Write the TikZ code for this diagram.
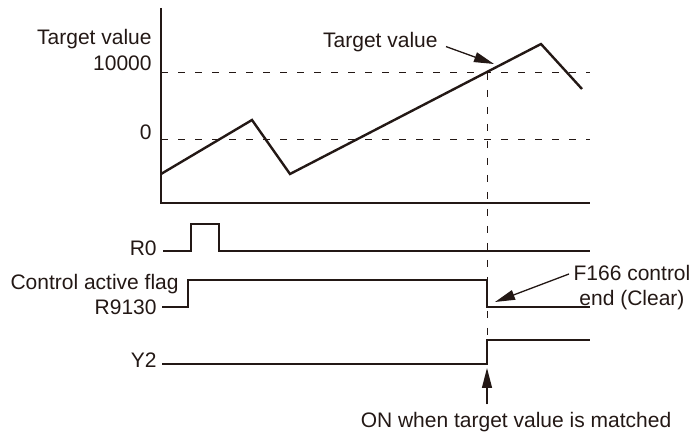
\documentclass[tikz,border=0pt]{standalone}
\usepackage{fontspec}
\setmainfont{Liberation Sans}
\usetikzlibrary{arrows.meta,positioning,calc}
\definecolor{ink}{HTML}{231815}

\begin{document}
\begin{tikzpicture}[
  x=0.5pt, y=-0.5pt,
  every node/.style={font=\fontsize{10.5}{12.5}\selectfont, text=ink, inner sep=0pt},
  axis/.style={draw=ink, line width=0.65pt},
  guide/.style={draw=ink, line width=0.5pt, dash pattern=on 3.5pt off 5pt},
  trace/.style={draw=ink, line width=1.2pt, line join=miter},
  arr/.style={-{Triangle[length=10pt,width=5pt]}, draw=ink, fill=ink, line width=0.65pt}
]
\useasboundingbox (0,0) rectangle (697,432);

% value graph
\draw[axis] (161,8) -- (161,203) -- (590,203);
\node[anchor=base east] (tvaxis) at (152,45) {Target value};
\node[anchor=base east] (hi) at (152,71) {10000};
\node[anchor=base east] (zero) at (152,140) {0};
\draw[guide] (161,73) -- (590,73);
\draw[guide] (161,140) -- (590,140);
\draw[trace] (161,174) -- (252,120) -- (290,174) -- (541,44) -- (582,89);

\coordinate (match) at (487,73);
\coordinate (hit) at (494,64);
\node[anchor=base east] (tvl) at (438,48) {Target value};
\draw[arr] ($(tvl.east)+(8,4)$) -- (hit);
\draw[guide] (match) -- (487,336);

% timing
\node[anchor=base east] (r0) at (157,256) {R0};
\draw[trace] (163,251) -- (191,251) -- (191,224) -- (219,224) -- (219,251) -- (590,251);

\node[anchor=base east] (caf) at (179,290) {Control active flag};
\node[anchor=base east] (r9130) at (157,315) {R9130};
\draw[trace] (162,307) -- (188,307) -- (188,280) -- (487,280) -- (487,307) -- (590,307);

\node[anchor=base east] (y2) at (157,368) {Y2};
\draw[trace] (162,364) -- (487,364) -- (487,340) -- (590,340);

% notes
\node[anchor=north, align=center] (f166) at (632,265) {F166 control\\end (Clear)};
\coordinate (clr) at (495,302);
\draw[arr] (569,274) -- (clr);

\node[anchor=base] (on) at (516,428) {ON when target value is matched};
\draw[arr] ($(on.north -| match)+(0,-8)$) -- (487,368);
\end{tikzpicture}
\end{document}
